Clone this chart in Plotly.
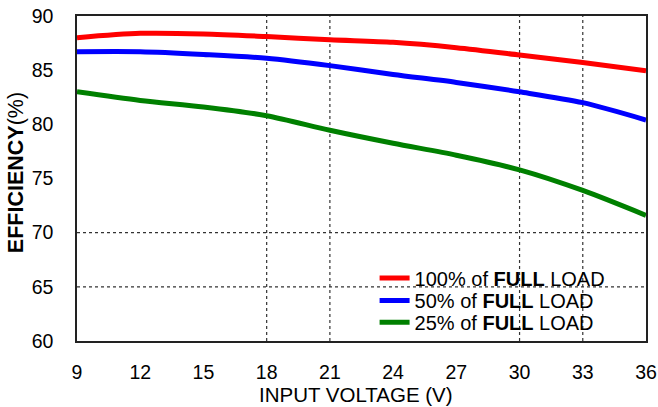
import plotly.graph_objects as go

voltage = [9, 12, 15, 18, 21, 24, 27, 30, 33, 36]
eff_100 = [88.0, 88.4, 88.35, 88.1, 87.8, 87.57, 87.07, 86.4, 85.7, 84.95]
eff_50 = [86.7, 86.7, 86.45, 86.1, 85.42, 84.6, 83.87, 83.0, 82.0, 80.4]
eff_25 = [83.0, 82.2, 81.6, 80.8, 79.45, 78.25, 77.15, 75.8, 73.9, 71.6]

names = ["100% of <b>FULL</b> LOAD", "50% of <b>FULL</b> LOAD", "25% of <b>FULL</b> LOAD"]
colors = ["#ff0000", "#0000ff", "#008000"]

x_grid = [18, 21, 30, 33]
y_grid = [65, 70]
x_ticks = [9, 12, 15, 18, 21, 24, 27, 30, 33, 36]
y_ticks = [60, 65, 70, 75, 80, 85, 90]

FONT = "Liberation Sans, Arial, sans-serif"

fig = go.Figure()
legend_ids = ["legend", "legend2", "legend3"]
for name, ys, c, lg in zip(names, [eff_100, eff_50, eff_25], colors, legend_ids):
    fig.add_trace(go.Scatter(x=voltage, y=ys, mode="lines", name=name, legend=lg,
                             line=dict(color=c, width=5, shape="spline", smoothing=0.8)))

shapes = []
for xv in x_grid:
    shapes.append(dict(type="line", xref="x", yref="y", x0=xv, x1=xv, y0=60, y1=90,
                       line=dict(color="#333333", width=1.2, dash="dot"), layer="below"))
for yv in y_grid:
    shapes.append(dict(type="line", xref="x", yref="y", x0=9, x1=36, y0=yv, y1=yv,
                       line=dict(color="#333333", width=1.2, dash="dot"), layer="below"))
# white legend background box
shapes.append(dict(type="rect", xref="paper", yref="paper", x0=0.489, x1=0.940,
                   y0=0.025, y1=0.234, fillcolor="white", line=dict(width=0),
                   layer="below"))

leg_common = dict(xanchor="left", yanchor="middle", bgcolor="rgba(0,0,0,0)", borderwidth=0,
                  font=dict(family=FONT, size=20, color="black"))

fig.update_layout(
    width=658, height=407,
    margin=dict(l=77, r=12, t=16, b=66, autoexpand=False),
    paper_bgcolor="white", plot_bgcolor="white",
    font=dict(family=FONT, color="black", size=19.5),
    shapes=shapes,
    showlegend=True,
    legend=dict(x=0.523, y=0.194, **leg_common),
    legend2=dict(x=0.523, y=0.125, **leg_common),
    legend3=dict(x=0.523, y=0.058, **leg_common),
    xaxis=dict(range=[9, 36], tickvals=x_ticks, showgrid=False, zeroline=False,
               showline=True, linecolor="#222222", linewidth=1.5, mirror=True,
               ticks="", ticklabelstandoff=13, automargin=False, ticklabeloverflow="allow",
               tickfont=dict(size=19.5),
               title=dict(text="INPUT VOLTAGE (V)&nbsp;&nbsp;", font=dict(size=20.5), standoff=0)),
    yaxis=dict(range=[60, 90], tickvals=y_ticks, showgrid=False, zeroline=False,
               showline=True, linecolor="#222222", linewidth=1.5, mirror=True,
               ticks="", ticklabelstandoff=18, automargin=False, ticklabeloverflow="allow",
               tickfont=dict(size=19.5),
               title=dict(text="&nbsp;&nbsp;<b>EFFICIENCY</b>(%)", font=dict(size=21.5), standoff=2)),
)

fig.write_html("out.html", config={"displayModeBar": False},
               post_script="document.body.style.margin='0';document.body.style.overflow='hidden';")
